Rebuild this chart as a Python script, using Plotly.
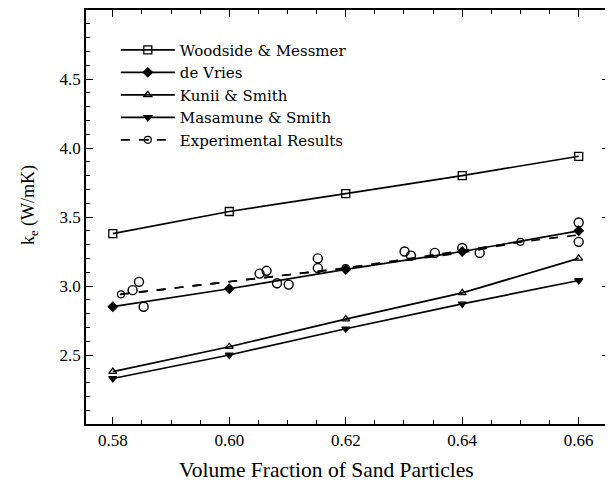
import plotly.graph_objects as go

x_model = [0.58, 0.60, 0.62, 0.64, 0.66]
woodside = [3.38, 3.54, 3.67, 3.80, 3.94]
de_vries = [2.85, 2.98, 3.12, 3.25, 3.40]
kunii = [2.38, 2.56, 2.76, 2.95, 3.20]
masamune = [2.33, 2.50, 2.69, 2.87, 3.04]

x_fit = [0.5814, 0.60, 0.62, 0.64, 0.65, 0.66]
y_fit = [2.94, 3.03, 3.13, 3.24, 3.32, 3.37]
fit_marker_x = [0.5814, 0.62, 0.65]
fit_marker_y = [2.94, 3.13, 3.32]

x_exp = [0.5834, 0.5845, 0.5853, 0.6052, 0.6064, 0.6082, 0.6102, 0.6152, 0.6152,
         0.6301, 0.6312, 0.6353, 0.6400, 0.6430, 0.6600, 0.6600]
y_exp = [2.97, 3.03, 2.85, 3.09, 3.11, 3.02, 3.01, 3.20, 3.13,
         3.25, 3.22, 3.24, 3.275, 3.24, 3.46, 3.32]

xticks = [0.58, 0.60, 0.62, 0.64, 0.66]
xticklabels = ["0.58", "0.60", "0.62", "0.64", "0.66"]
yticks = [2.5, 3.0, 3.5, 4.0, 4.5]
yticklabels = ["2.5", "3.0", "3.5", "4.0", "4.5"]

SERIF = "Liberation Serif"
LEG_FONT = "DejaVu Serif"
fig = go.Figure()

def model(name, y, symbol, size=7):
    fig.add_trace(go.Scatter(
        x=x_model, y=y, name=name, mode="lines+markers",
        line=dict(color="black", width=1.7),
        marker=dict(symbol=symbol, size=size, color="black",
                    line=dict(color="black", width=1.3)),
    ))

model("Woodside & Messmer", woodside, "square-open", 8)
model("de Vries", de_vries, "diamond", 7)
model("Kunii & Smith", kunii, "triangle-up-open", 7)
model("Masamune & Smith", masamune, "triangle-down", 7)

fig.add_trace(go.Scatter(
    x=x_fit, y=y_fit, name="Experimental Results", mode="lines",
    line=dict(color="black", width=1.7, dash="dash"),
    legendgroup="exp", showlegend=False,
))
fig.add_trace(go.Scatter(
    x=fit_marker_x, y=fit_marker_y, name="Experimental Results", mode="lines+markers",
    line=dict(color="black", width=1.7, dash="dash"),
    marker=dict(symbol="circle-open-dot", size=7, color="black", line=dict(width=1.2)),
    legendgroup="exp",
))
fig.add_trace(go.Scatter(
    x=x_exp, y=y_exp, mode="markers", showlegend=False, legendgroup="exp",
    marker=dict(symbol="circle-open", size=9, color="black", line=dict(width=1.4)),
))

axis_common = dict(
    showline=True, linecolor="black", linewidth=1.6, mirror="ticks",
    ticks="inside", ticklen=7, tickwidth=1.3, tickcolor="black",
    showgrid=False, zeroline=False, automargin=False,
    tickfont=dict(family=SERIF, size=17, color="black"),
)

fig.update_xaxes(
    range=[0.5754, 0.6652], tickvals=xticks, ticktext=xticklabels,
    minor=dict(dtick=0.005, tick0=0.58, ticks="inside", ticklen=4, tickcolor="black", tickwidth=1),
    **axis_common,
)
fig.update_yaxes(
    range=[2.0, 5.0], tickvals=yticks, ticktext=yticklabels,
    minor=dict(dtick=0.1, tick0=2.0, ticks="inside", ticklen=4, tickcolor="black", tickwidth=1),
    **axis_common,
)

fig.add_annotation(
    text="Volume Fraction of Sand Particles", xref="paper", yref="paper",
    x=0.459, y=-0.111, xanchor="center", yanchor="middle", showarrow=False,
    font=dict(family=SERIF, size=21.5, color="black"),
)
fig.add_annotation(
    text="k<sub>e</sub> (W/mK)", xref="paper", yref="paper",
    x=-0.107, y=0.529, xanchor="center", yanchor="middle", showarrow=False,
    textangle=-90, font=dict(family=SERIF, size=18, color="black"),
)

fig.update_layout(
    width=605, height=475,
    margin=dict(l=78, r=4, t=2, b=59),
    plot_bgcolor="white", paper_bgcolor="white",
    font=dict(family=SERIF, color="black"),
    legend=dict(x=0.057, y=0.943, xanchor="left", yanchor="top",
                bgcolor="rgba(0,0,0,0)", font=dict(family=LEG_FONT, size=15, color="black"),
                tracegroupgap=0, itemwidth=54),
)

fig.write_html("out.html")
